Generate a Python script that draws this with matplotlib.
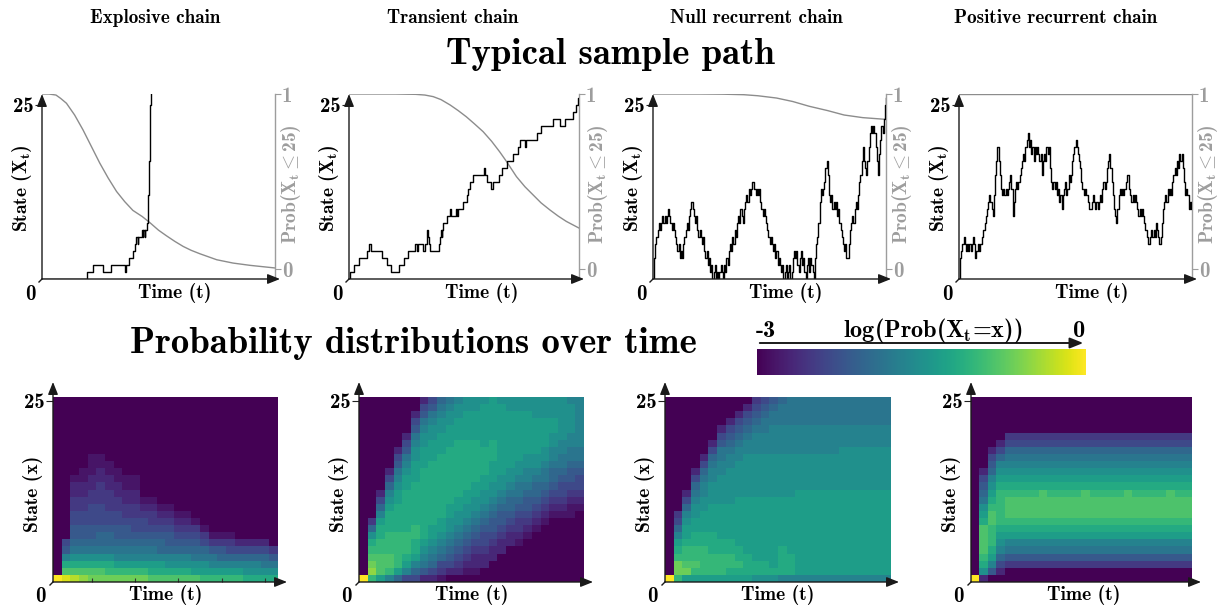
import numpy as np
import matplotlib
matplotlib.use("Agg")
import matplotlib.pyplot as plt
from matplotlib.colors import Normalize
from matplotlib.colorbar import ColorbarBase
from matplotlib.lines import Line2D
from matplotlib.patches import FancyArrowPatch

plt.rcParams.update({
    'font.family': 'cmb10',
    'mathtext.fontset': 'custom',
    'mathtext.rm': 'cmb10',
    'mathtext.it': 'cmb10',
    'mathtext.bf': 'cmb10',
    'mathtext.sf': 'cmb10',
    'axes.unicode_minus': False,
})

# ---------------- data ----------------
chain_titles = ["Explosive chain", "Transient chain", "Null recurrent chain", "Positive recurrent chain"]

# Explosive chain sample path (jump times, states)
exp_t = [0, 0.195, 0.219, 0.262, 0.295, 0.355, 0.362, 0.374, 0.391, 0.400, 0.405, 0.410, 0.413,
         0.428, 0.432, 0.435, 0.440, 0.443, 0.446, 0.452, 0.4535, 0.455, 0.456, 0.457, 0.4578,
         0.4585, 0.4593, 0.460, 0.4607, 0.4614, 0.462, 0.4626, 0.4632, 0.4638, 0.4644, 0.465,
         0.4656, 0.4662, 0.4668]
exp_x = [0, 1, 2, 1, 2, 1, 2, 3, 4, 5, 6, 5, 6,
         7, 6, 7, 6, 7, 7, 8, 9, 10, 11, 12, 13,
         14, 15, 16, 17, 18, 19, 20, 21, 22, 23, 24,
         25, 26, 27]

# Transient chain sample path
tr_t = [0, 0.004, 0.022, 0.045, 0.077, 0.087, 0.094, 0.142, 0.166, 0.181, 0.219, 0.239, 0.258,
        0.287, 0.294, 0.301, 0.323, 0.330, 0.337, 0.340, 0.344, 0.348, 0.352, 0.392, 0.397,
        0.402, 0.404, 0.406, 0.410, 0.424, 0.440, 0.444, 0.467, 0.470, 0.475, 0.496, 0.511,
        0.518, 0.525, 0.540, 0.588, 0.593, 0.598, 0.619, 0.627, 0.653, 0.667, 0.685, 0.713,
        0.735, 0.742, 0.764, 0.768, 0.818, 0.836, 0.887, 0.916, 0.938, 0.974, 0.988, 0.996, 1.0]
tr_x = [0, 1, 2, 3, 4, 5, 4, 3, 2, 1, 2, 3, 4,
        5, 4, 5, 4, 5, 6, 7, 6, 5, 4, 5, 6,
        7, 6, 7, 8, 9, 10, 9, 10, 9, 10, 11, 12,
        13, 14, 15, 16, 15, 14, 13, 14, 15, 16, 17, 18,
        19, 20, 19, 20, 21, 22, 23, 22, 23, 24, 25, 26, 26]

# Null recurrent and positive recurrent paths: state every 0.005 time units
null_x = [0, 3, 5, 6, 7, 8, 7, 8, 9, 8,
          9, 8, 9, 10, 9, 8, 7, 8, 7, 6,
          5, 4, 5, 3, 4, 3, 5, 6, 7, 8,
          7, 9, 10, 11, 10, 9, 8, 9, 7, 6,
          7, 6, 5, 6, 4, 3, 4, 2, 3, 1,
          2, 0, 1, 2, 0, 1, 0, 1, 2, 1,
          0, 2, 1, 3, 2, 4, 5, 4, 6, 5,
          7, 6, 8, 9, 8, 10, 9, 8, 10, 11,
          12, 11, 13, 12, 13, 14, 14, 13, 12, 13,
          12, 13, 11, 10, 9, 10, 9, 8, 7, 6,
          5, 6, 5, 4, 5, 3, 4, 2, 3, 2,
          1, 2, 0, 1, 2, 0, 1, 2, 0, 1,
          3, 4, 3, 4, 2, 1, 3, 4, 2, 3,
          1, 0, 2, 3, 1, 3, 2, 1, 0, 3,
          5, 6, 8, 11, 13, 12, 13, 14, 16, 17,
          15, 12, 11, 12, 10, 11, 10, 11, 9, 10,
          8, 7, 6, 5, 4, 5, 3, 3, 5, 7,
          8, 9, 8, 10, 11, 10, 12, 14, 15, 17,
          19, 17, 16, 15, 17, 19, 21, 22, 21, 22,
          21, 19, 17, 15, 18, 20, 22, 21, 23, 25,
          26]
pos_x = [0, 3, 4, 5, 6, 5, 4, 5, 4, 5,
         4, 5, 6, 5, 3, 4, 5, 4, 5, 5,
         6, 7, 8, 9, 10, 11, 12, 11, 10, 9,
         12, 15, 17, 19, 17, 15, 13, 12, 13, 12,
         13, 12, 13, 14, 15, 13, 9, 11, 13, 14,
         13, 14, 15, 16, 17, 18, 17, 19, 20, 21,
         19, 20, 18, 19, 17, 19, 18, 19, 18, 17,
         18, 15, 17, 18, 17, 19, 18, 19, 16, 14,
         13, 14, 13, 14, 12, 13, 11, 12, 10, 12,
         13, 14, 12, 13, 15, 14, 15, 17, 18, 19,
         20, 19, 18, 17, 16, 14, 13, 12, 13, 12,
         12, 11, 10, 10, 11, 12, 11, 10, 11, 10,
         11, 12, 11, 13, 14, 13, 14, 16, 17, 18,
         16, 14, 12, 10, 9, 8, 10, 12, 13, 12,
         13, 12, 13, 14, 15, 15, 13, 12, 11, 12,
         11, 12, 11, 10, 9, 10, 9, 10, 9, 8,
         7, 6, 5, 5, 6, 7, 6, 7, 6, 8,
         7, 6, 5, 6, 8, 10, 11, 12, 11, 13,
         12, 13, 12, 14, 15, 16, 15, 17, 16, 18,
         17, 18, 16, 14, 12, 13, 12, 10, 11, 10,
         11]
sample_dt = 0.005

# Prob(X_t <= 25) curves
exp_ct = [0, 0.03, 0.06, 0.08, 0.105, 0.14, 0.176, 0.212, 0.248, 0.284, 0.32, 0.355, 0.39, 0.43,
          0.463, 0.5, 0.534, 0.57, 0.606, 0.64, 0.678, 0.75, 0.82, 0.893, 1.0]
exp_cp = [1, 1, 0.994, 0.975, 0.947, 0.88, 0.795, 0.70, 0.605, 0.52, 0.443, 0.385, 0.335, 0.30,
          0.265, 0.222, 0.19, 0.158, 0.129, 0.107, 0.087, 0.053, 0.034, 0.021, 0.006]
tr_ct = [0, 0.20, 0.29, 0.33, 0.366, 0.40, 0.44, 0.475, 0.51, 0.545, 0.583, 0.62, 0.655, 0.685,
         0.728, 0.765, 0.80, 0.835, 0.873, 0.91, 0.945, 1.0]
tr_cp = [1, 1, 0.998, 0.994, 0.985, 0.968, 0.937, 0.905, 0.87, 0.83, 0.785, 0.73, 0.67, 0.614,
         0.528, 0.47, 0.424, 0.378, 0.338, 0.302, 0.272, 0.234]
null_ct = [0, 0.2, 0.3, 0.39, 0.45, 0.53, 0.6, 0.67, 0.75, 0.82, 0.9, 1.0]
null_cp = [1, 1, 0.999, 0.996, 0.99, 0.977, 0.957, 0.93, 0.905, 0.88, 0.865, 0.855]
pos_ct = [0, 1.0]
pos_cp = [1, 1]

# Heatmaps: one string per time column, states 0..25 from bottom.
# Each character is a base-19 level k (0..i): log10 Prob = -3 + k/6
explosive_cols = [
    "i", "hdb854", "gdb976554433221", "fdb9765544332211", "edb976554443322111",
    "edb976654443332211", "ecb97665443332211", "eca8765544332211", "eca876554332211",
    "eca876544332211", "eca876544321", "dba876543321", "dba86654321", "db986554321",
    "db98654321", "db98654321", "da9765431", "ca976431", "ca87531", "ca86531", "ca86431",
    "ca8642", "b98642", "b98642", "b97642", "b9753"]
transient_cols = [
    "i", "cfedcb963", "adddccbba8642", "8cddcccbbba98642", "6acccccbbbbaa987542",
    "48abcccbbbbbbaa987542", "468abbccbbbbbbaaa9987542", "25789abbbbbbbbbbaaa9987542",
    "246789aabbbbbbbbbaaa998754", "1346789aabbbbbbbbbaaa99876", "024567899aabbbbbbbbaaa9987",
    "0234567899aabbbbbbbbaaa998", "01234567899aabbbbbbbaaaa99", "012234567899aabbbbbbaaaa99",
    "0022344567899aabbbbaaaaaa9", "00022345567899aaabbbaaaaaa", "000022345567899aaaaaaaaaa9",
    "0000022345667899aaaaaaaa99", "00000123345677899aaaaaaa99", "000000123455678899aaaaaa99",
    "000000012345667899aaaaa999", "0000000012345677899aaaa999", "000000000123456678899aa999",
    "00000000012344567788999999", "00000000011234556778899998", "00000000001234456778888888"]
null_cols = [
    "i", "ceecba8643", "aedccbaa98642", "acdccbbaa9987642", "accccbbaaa99887642",
    "acccbbbaaaa999887642", "acccbbaaaaa99998877542", "abccbbaaaaa999998876542",
    "abcbbaaaaaaa999998876542", "abbbaaaaaaaa9999998876542", "9bbaaaaaaaaa99999988876543",
    "9bbaaaaaaaaa99999988877654", "9baaaaaaaaaa99999988887765", "8bbbbaaaaaaa99999988887776",
    "8bbbaaaaaaaa99999988887777", "8aaaaaaaaaaaa9999988887777", "8aaaaaaaaaaaa9999988887777",
    "8aaaaaaaaaaaa9999988887777", "8aaaaaaaaaaaa9999988887777", "8aaaaaaaaaaaa9999988887777",
    "8aaaaaaaaaaaa9999998887777", "8aaaaaaaaaaaa9999998887777", "8aaaaaaaaaaaa9999998887777",
    "8aaaaaaaaaaaa9999998887777", "8aaaaaaaaaaaa9999998887777", "8aaaaaaaaaaaa9999998887777"]
positive_cols = [
    "i", "29bcddddba976542", "058abcccddcba986542", "024689abcccccba98642",
    "003578abcdddcba98764300000", "003578abcdddcba98764300000", "003578abcdddcba98764300000",
    "003578abcdddcba98764300000", "003578abcddddba98764300000", "003578abcdddcba98764300000",
    "003578abcdddcba98764300000", "003578abcdddcba98764300000", "003578abcdddcba98764300000",
    "003578abcddddba98764300000", "003578abcdddcba98764300000", "003578abcdddcba98764300000",
    "003578abcdddcba98764300000", "003578abcdddcba98764300000", "003578abcddddba98764300000",
    "003578abcdddcba98764300000", "003578abcdddcba98764300000", "003578abcdddcba98764300000",
    "003578abcdddcba98764300000", "003578abcddddba98764300000", "003578abcdddcba98764300000",
    "003578abcdddcba98764300000"]

cbar_ticks = ["-3", "0"]

# ---------------- drawing ----------------
W, H = 1222, 608
fig = plt.figure(figsize=(W / 100, H / 100), dpi=100)

LAB = 14      # axis labels
TICK = 15     # tick labels
COLT = 13.8   # column titles
MAIN = 26.5   # section titles
CBL = 17.5    # colour bar labels


def frac_rect(l, t, r, b):
    return [l / W, 1 - b / H, (r - l) / W, (b - t) / H]


def ftext(x, y, s, **kw):
    fig.text(x / W, 1 - y / H, s, **kw)


ARROW = '-|>,head_length=0.5,head_width=0.2'


def arrow(ax, p0, p1, color='#1a1a1a'):
    ax.annotate('', xy=p1, xytext=p0, xycoords='axes fraction', textcoords='axes fraction',
                arrowprops=dict(arrowstyle=ARROW, color=color,
                                lw=1.0, shrinkA=0, shrinkB=0, mutation_scale=15),
                annotation_clip=False, zorder=10)


def corner(x, y):
    fig.add_artist(Line2D([x / W, (x - 3) / W], [1 - y / H, 1 - (y + 3) / H],
                          color='#1a1a1a', lw=1.0))


GRAY_LINE = '#8c8c8c'
GRAY_AX = '#9d9d9d'

paths_t = [exp_t, tr_t, list(np.arange(len(null_x)) * sample_dt), list(np.arange(len(pos_x)) * sample_dt)]
paths_x = [exp_x, tr_x, null_x, pos_x]
curves_t = [exp_ct, tr_ct, null_ct, pos_ct]
curves_p = [exp_cp, tr_cp, null_cp, pos_cp]

top_l = [42, 349, 653, 959]
top_r = [275, 579, 886, 1192]
title_x = [155, 453, 756, 1056]
for i in range(4):
    l, r = top_l[i], top_r[i]
    ax = fig.add_axes(frac_rect(l, 94, r, 279))
    ax2 = ax.twinx()
    ax.set_zorder(ax2.get_zorder() + 1)
    ax.patch.set_visible(False)
    ax.set_xlim(0, 1)
    ax.set_ylim(0, 26.58)
    ax.step(paths_t[i], paths_x[i], where='post', color='black', lw=1.0)
    ax2.set_ylim(-0.057, 1)
    ax2.plot(curves_t[i], curves_p[i], color=GRAY_LINE, lw=1.0)
    for s in ax.spines.values():
        s.set_visible(False)
    for k in ['top', 'left', 'bottom']:
        ax2.spines[k].set_visible(False)
    ax2.spines['right'].set_color(GRAY_AX)
    ax2.spines['right'].set_linewidth(1.0)
    ax.set_xticks([])
    ax.set_yticks([25])
    ax.set_yticklabels(['25'])
    ax.tick_params(axis='y', length=5, width=0.8, color='#222222', labelsize=TICK, pad=1)
    ax2.set_yticks([0, 1])
    ax2.set_yticklabels(['0', '1'])
    ax2.tick_params(axis='y', length=4, width=0.8, color=GRAY_AX, labelcolor=GRAY_AX,
                    labelsize=TICK, pad=1)
    arrow(ax, (0, 0), (0, 1.0))
    arrow(ax, (0, 0), (1 + 5 / (r - l), 0))
    corner(l, 279)
    dx = l - 42
    ftext(22 + dx, 188, r'State ($X_t$)', rotation=90, ha='center', va='center', fontsize=LAB)
    ftext(175 + dx, 293, 'Time (t)', ha='center', va='center', fontsize=LAB)
    ftext(30 + dx, 294, '0', ha='center', va='center', fontsize=TICK)
    ftext(291 + dx, 184, r'Prob($X_t\leq$25)', rotation=90, ha='center', va='center',
          fontsize=LAB, color=GRAY_AX)
    ftext(title_x[i], 23, chain_titles[i], ha='center', va='baseline', fontsize=COLT)

ftext(610, 64, 'Typical sample path', ha='center', va='baseline', fontsize=MAIN)
ftext(413, 353, 'Probability distributions over time', ha='center', va='baseline', fontsize=MAIN)

hm_cols = [explosive_cols, transient_cols, null_cols, positive_cols]
hm_l = [53, 359, 665, 971]
hm_r = [278, 584, 890, 1192]
for i in range(4):
    l, r = hm_l[i], hm_r[i]
    ax = fig.add_axes(frac_rect(l, 397, r, 582))
    K = np.array([[int(c, 19) for c in s.ljust(26, '0')[:26]] for s in hm_cols[i]]).T
    M = -3 + K / 6.0
    ax.imshow(M, origin='lower', cmap='viridis', vmin=-3, vmax=0,
              extent=(-0.5, 25.5, -0.5, 25.5), aspect='auto', interpolation='nearest')
    for s in ax.spines.values():
        s.set_visible(False)
    ax.set_yticks([25])
    ax.set_yticklabels(['25'])
    ax.tick_params(axis='y', length=5, width=0.8, color='#222222', labelsize=TICK, pad=1)
    if i == 0:
        ax.set_xticks([4, 9, 14, 19, 24])
        ax.set_xticklabels([])
        ax.tick_params(axis='x', direction='in', length=3, width=0.8, color='#333333')
    else:
        ax.set_xticks([])
    arrow(ax, (0, 0), (0, 1 + 15 / 185))
    arrow(ax, (0, 0), (1 + 9 / (r - l), 0))
    corner(l, 582)
    dx = l - 53
    ftext(33 + dx, 494, 'State (x)', rotation=90, ha='center', va='center', fontsize=LAB)
    ftext(166 + dx, 595, 'Time (t)', ha='center', va='center', fontsize=LAB)
    ftext(40 + dx, 597, '0', ha='center', va='center', fontsize=TICK)

# colour bar
cax = fig.add_axes(frac_rect(757, 349, 1086, 375))
cb = ColorbarBase(cax, cmap='viridis', norm=Normalize(-3, 0), orientation='horizontal')
cb.set_ticks([])
cb.outline.set_visible(False)
fig.add_artist(FancyArrowPatch(
    (757 / W, 1 - 343 / H), (1086 / W, 1 - 343 / H), transform=fig.transFigure,
    arrowstyle=ARROW, mutation_scale=16, color='#1a1a1a', lw=1.4))
ftext(766, 337, cbar_ticks[0], ha='center', va='baseline', fontsize=CBL)
ftext(1079, 337, cbar_ticks[1], ha='center', va='baseline', fontsize=CBL)
ftext(933, 337, r'log(Prob($X_t$=x))', ha='center', va='baseline', fontsize=CBL)

fig.savefig('out.png', dpi=100)
